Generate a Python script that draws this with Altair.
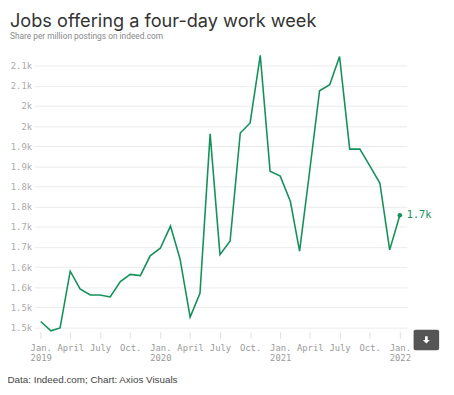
import altair as alt
import pandas as pd

dates = [
    "2019-01-01", "2019-02-01", "2019-03-01", "2019-04-01", "2019-05-01", "2019-06-01",
    "2019-07-01", "2019-08-01", "2019-09-01", "2019-10-01", "2019-11-01", "2019-12-01",
    "2020-01-01", "2020-02-01", "2020-03-01", "2020-04-01", "2020-05-01", "2020-06-01",
    "2020-07-01", "2020-08-01", "2020-09-01", "2020-10-01", "2020-11-01", "2020-12-01",
    "2021-01-01", "2021-02-01", "2021-03-01", "2021-04-01", "2021-05-01", "2021-06-01",
    "2021-07-01", "2021-08-01", "2021-09-01", "2021-10-01", "2021-11-01", "2021-12-01",
    "2022-01-01",
]
values = [
    1465, 1442, 1449, 1590, 1546, 1531, 1531, 1526, 1564, 1582, 1579, 1628,
    1647, 1702, 1621, 1476, 1535, 1931, 1631, 1665, 1933, 1958, 2126, 1838,
    1826, 1763, 1640, 1840, 2038, 2053, 2123, 1893, 1893, 1852, 1809, 1643,
    1729,
]
y_ticks = [1450, 1500, 1550, 1600, 1650, 1700, 1750, 1800, 1850, 1900, 1950, 2000, 2050, 2100]
x_ticks = [(2019, 1), (2019, 4), (2019, 7), (2019, 10), (2020, 1), (2020, 4), (2020, 7),
           (2020, 10), (2021, 1), (2021, 4), (2021, 7), (2021, 10), (2022, 1)]

GREEN = "#14915a"
MONO = "DejaVu Sans Mono"

df = pd.DataFrame({"date": dates, "value": values})
last = df.tail(1)

x_enc = alt.X(
    "date:T",
    scale=alt.Scale(type="utc", domain=[alt.DateTime(year=2018, month=12, date=13, utc=True),
                                        alt.DateTime(year=2022, month=1, date=22, utc=True)]),
    axis=alt.Axis(
        values=[alt.DateTime(year=y, month=m, date=1, utc=True) for y, m in x_ticks],
        tickCount=30,
        labelExpr="utcmonth(datum.value)==0 ? ['Jan.', utcFormat(datum.value,'%Y')] : "
                  "(utcmonth(datum.value)==3 ? 'April' : (utcmonth(datum.value)==6 ? 'July' : 'Oct.'))",
        grid=False, domain=False, ticks=True, tickColor="#e0e0e0", tickSize=7,
        labelFont=MONO, labelFontSize=9, labelColor="#999999", labelPadding=5,
        labelLineHeight=10, labelOverlap=False,
        title="Data: Indeed.com; Chart: Axios Visuals",
        titleFont="Liberation Sans", titleFontSize=10, titleFontWeight="normal",
        titleColor="#444444", titleAnchor="start", titleAlign="left",
        titleX=-28, titleY=49, titleBaseline="middle",
    ),
)
y_enc = alt.Y(
    "value:Q",
    scale=alt.Scale(domain=[1440, 2130], nice=False, zero=False),
    axis=alt.Axis(
        values=y_ticks, tickCount=30, format=".2~s", grid=True, gridColor="#ebebeb", gridWidth=1,
        ticks=False, domain=False, labelFont=MONO, labelFontSize=9, labelOverlap=False,
        labelColor="#aaaaaa", labelPadding=3, title=None,
    ),
)

line = alt.Chart(df).mark_line(color=GREEN, strokeWidth=1.6).encode(x=x_enc, y=y_enc)
pt = alt.Chart(last).mark_point(filled=True, color=GREEN, size=22, opacity=1).encode(x="date:T", y="value:Q")
lbl = alt.Chart(last).mark_text(align="left", dx=7, font=MONO, fontSize=10.5, color=GREEN).encode(
    x="date:T", y="value:Q", text=alt.Text("value:Q", format=".2~s"))

btn_df = pd.DataFrame({"k": [0]})
btn = alt.Chart(btn_df).mark_rect(color="#555555", cornerRadius=2, clip=False).encode(
    x=alt.value(386), x2=alt.value(412), y=alt.value(281), y2=alt.value(302))
arrow = alt.Chart(btn_df).mark_point(
    shape="M-0.35,-1 L0.35,-1 L0.35,0 L0.9,0 L0,0.9 L-0.9,0 L-0.35,0 Z",
    filled=True, color="white", opacity=1, size=60, clip=False).encode(
    x=alt.value(399), y=alt.value(291.5))

chart = alt.layer(line, pt, lbl, btn, arrow).properties(
    width=379, height=283,
    autosize=alt.AutoSizeParams(type="none"),
    padding={"left": 27, "top": 43, "right": 40, "bottom": 60},
    title=alt.TitleParams(
        text="Jobs offering a four-day work week",
        subtitle="Share per million postings on indeed.com",
        anchor="start", frame="group", dx=-25, offset=12,
        font="Inter", fontSize=18.5, fontWeight="normal", color="#333333",
        subtitleFont="Roboto", subtitleFontSize=8.5, subtitleColor="#888888",
        subtitlePadding=2,
    ),
).configure_view(stroke=None)

chart.save("out.html", embed_options={"renderer": "svg", "actions": False})
